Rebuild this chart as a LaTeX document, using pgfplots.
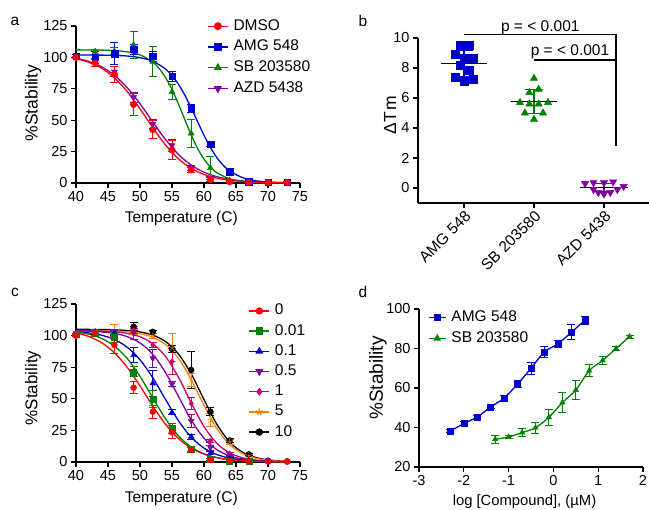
\documentclass[border=0pt]{standalone}
\usepackage{fontspec}
\setmainfont{Liberation Sans}
\usepackage{pgfplots}
\pgfplotsset{compat=1.18}

\definecolor{cRed}{RGB}{255,0,0}
\definecolor{cBlue}{RGB}{0,0,204}
\definecolor{cGreen}{RGB}{0,128,0}
\definecolor{cPurple}{RGB}{128,0,160}
\definecolor{cMag}{RGB}{204,0,110}
\definecolor{cOrange}{RGB}{255,128,0}

\newcommand{\tickfont}{\fontsize{14.5}{16}\selectfont}
\newcommand{\labfont}{\fontsize{15.5}{18}\selectfont}

\pgfplotsset{
  gp/.style={
    scale only axis, axis lines=left,
    axis line style={-, line width=1.3pt},
    tick align=outside, major tick length=5pt,
    tick style={line width=1.2pt, black},
    enlargelimits=false, clip=false,
    /pgf/number format/assume math mode=true,
    tick label style={font=\tickfont},
    legend style={draw=none, fill=none, font=\labfont, inner sep=0pt,
      row sep=4.8pt, column sep=4pt,
      nodes={inner sep=1pt, text height=11pt, text depth=3pt}},
    legend cell align=left,
    legend image code/.code={\draw[mark repeat=2,mark phase=2,#1]
      plot coordinates {(0pt,0pt) (10pt,0pt) (20pt,0pt)};},
  },
  curve/.style={line width=1.3pt, mark=none, smooth, forget plot},
  pts/.style={only marks, forget plot,
    error bars/y dir=both, error bars/y explicit,
    error bars/error bar style={line width=1pt},
    error bars/error mark options={rotate=90, line width=1pt, mark size=4pt}},
}

\begin{document}
\begin{tikzpicture}
\path[use as bounding box] (0,0) rectangle (649pt,510pt);

\node[font=\labfont] at (15pt,489pt) {a};
\node[font=\labfont] at (363pt,489pt) {b};
\node[font=\labfont] at (15pt,218pt) {c};
\node[font=\labfont] at (363pt,218pt) {d};

% ---------------- a ----------------
\begin{axis}[gp, at={(76pt,327pt)}, anchor=south west, width=224pt, height=157pt,
  xmin=40, xmax=75, ymin=0, ymax=125,
  xtick={40,45,...,75}, ytick={0,25,...,125},
  xlabel={Temperature (C)}, ylabel={\%Stability},
  xlabel style={at={(axis description cs:0.47,-0.223)}, anchor=center, font=\labfont},
  ylabel style={at={(axis description cs:-0.192,0.51)}, anchor=center, font=\fontsize{17.5}{20}\selectfont},
  legend style={at={(axis description cs:0.585,1.051)}, anchor=north west}]
\addlegendimage{cRed, line width=1.3pt, mark=*, mark size=3.3pt}
\addlegendentry{DMSO}
\addlegendimage{cBlue, line width=1.3pt, mark=square*, mark size=3.3pt}
\addlegendentry{AMG 548}
\addlegendimage{cGreen, line width=1.3pt, mark=triangle*, mark size=3.5pt}
\addlegendentry{SB 203580}
\addlegendimage{cPurple, line width=1.3pt, mark=triangle*, mark size=3.5pt, mark options={rotate=180}}
\addlegendentry{AZD 5438}

\addplot[curve, cPurple] coordinates {(40,99.4) (42,96.8) (44,92.5) (46,85.7) (48,75.9) (50,63.1) (52,48.6) (54,34.5) (56,22.8) (58,14.2) (60,8.6) (62,5.0) (64,2.9) (66,1.7) (68,0.9) (70,0.5) (72,0.3) (73,0.24)};
\addplot[curve, cGreen] coordinates {(40,106) (42,105.9) (44,105.8) (46,105.4) (48,104.4) (50,102.0) (52,96.2) (53,91.1) (54,83.9) (55,74.4) (56,63.0) (57,50.5) (58,38.3) (59,27.5) (60,19.0) (61,12.6) (62,8.2) (64,3.3) (66,1.3) (68,0.5) (70,0.2) (72,0.1) (73,0.05)};
\addplot[curve, cBlue] coordinates {(40,102) (42,101.9) (44,101.8) (46,101.6) (48,101.1) (50,99.8) (52,97.0) (54,90.7) (55,85.6) (56,78.7) (57,70.0) (58,59.8) (59,48.8) (60,38.0) (61,28.3) (62,20.3) (63,14.1) (64,9.6) (66,4.3) (68,1.8) (70,0.8) (72,0.3) (73,0.2)};
\addplot[curve, cRed] coordinates {(40,99.1) (42,96.1) (44,91.4) (46,83.7) (48,72.8) (50,59.1) (52,44.0) (54,30.2) (56,19.3) (58,11.6) (60,6.8) (62,3.9) (64,2.2) (66,1.2) (68,0.7) (70,0.4) (72,0.2) (73,0.16)};

\addplot[pts, cPurple, mark=triangle*, mark size=3.5pt, mark options={rotate=180}] coordinates {
 (40,101.5) +- (0,1) (43,97) +- (0,2) (46,88.6) +- (0,4) (49,68.2) +- (0,4) (52,47) +- (0,3.5)
 (55,30) +- (0,5) (58,12) +- (0,2) (61,4) +- (0,1) (64,1.5) +- (0,0.5) (67,1) +- (0,0.5)
 (70,0.5) +- (0,0.3) (73,0.5) +- (0,0.3)};
\addplot[pts, cGreen, mark=triangle*, mark size=3.5pt] coordinates {
 (43,104.6) +- (0,2) (46,105) +- (0,3) (49,110) +- (0,11) (52,96.5) +- (0,12) (55,72.5) +- (0,6)
 (58,39.5) +- (0,11.4) (61,12) +- (0,9) (64,2) +- (0,1) (67,0.5) +- (0,0.5)};
\addplot[pts, cBlue, mark=square*, mark size=3.3pt] coordinates {
 (40,101) +- (0,1) (43,100) +- (0,5) (46,103) +- (0,8.5) (49,106.5) +- (0,4) (52,101) +- (0,4)
 (55,85) +- (0,4) (58,59.4) +- (0,3) (61,30.8) +- (0,2) (64,9.2) +- (0,2) (67,1.2) +- (0,1)
 (70,0.5) +- (0,0.3) (73,0.5) +- (0,0.3)};
\addplot[pts, cRed, mark=*, mark size=3.3pt] coordinates {
 (40,100) +- (0,1) (43,95.5) +- (0,3) (46,86.5) +- (0,6.5) (49,62.5) +- (0,9) (52,42.5) +- (0,7.3)
 (55,26.3) +- (0,7.4) (58,10.4) +- (0,2) (61,2.8) +- (0,1.5) (64,1) +- (0,0.5) (67,0.5) +- (0,0.3)
 (70,0.4) +- (0,0.2) (73,0.4) +- (0,0.2)};
\end{axis}

% ---------------- b ----------------
\begin{axis}[gp, at={(418pt,307pt)}, anchor=south west, width=231pt, height=165pt,
  xmin=-0.657, xmax=2.643, ymin=-1, ymax=10,
  xtick={0,1,2}, xticklabels={AMG 548, SB 203580, AZD 5438},
  xticklabel style={rotate=45, anchor=north east, inner sep=1pt, font=\labfont},
  ytick={0,2,...,10},
  ylabel={ΔT\kern1pt m},
  ylabel style={at={(axis description cs:-0.121,0.533)}, anchor=center, font=\fontsize{17.5}{20}\selectfont}]
\addplot[only marks, cBlue, mark=square*, mark size=4pt] coordinates {
 (-0.06,9.5) (0.07,9.5) (-0.12,8.93) (0,8.64) (0.13,8.64) (-0.06,8.2) (0.07,7.82) (-0.12,7.38) (0,7.15) (0.13,7.24)};
\addplot[cBlue, line width=1.2pt] coordinates {(0,7.43) (0,9.15)};
\addplot[cBlue, line width=1.2pt] coordinates {(-0.13,9.15) (0.13,9.15)};
\addplot[cBlue, line width=1.2pt] coordinates {(-0.13,7.43) (0.13,7.43)};
\addplot[black, line width=1.3pt] coordinates {(-0.33,8.29) (0.33,8.29)};

\addplot[only marks, cGreen, mark=triangle*, mark size=4.2pt] coordinates {
 (1,7.31) (0.933,6.36) (1.067,6.58) (0.8,5.7) (0.933,5.6) (1.067,5.6) (1.2,5.7) (0.87,5.0) (1.13,5.0) (1,4.58)};
\addplot[cGreen, line width=1.2pt] coordinates {(1,4.95) (1,6.58)};
\addplot[cGreen, line width=1.2pt] coordinates {(0.87,6.58) (1.13,6.58)};
\addplot[cGreen, line width=1.2pt] coordinates {(0.87,4.95) (1.13,4.95)};
\addplot[black, line width=1.3pt] coordinates {(0.67,5.76) (1.33,5.76)};

\addplot[only marks, cPurple, mark=triangle*, mark size=4.2pt, mark options={rotate=180}] coordinates {
 (1.73,0.3) (1.85,0.35) (2,0.35) (2.13,0.4) (2.28,0.1) (1.85,-0.1) (1.92,-0.3) (2,-0.4) (2.09,-0.3) (2.19,-0.1)};
\addplot[cPurple, line width=1.2pt] coordinates {(2,-0.26) (2,0.3)};
\addplot[cPurple, line width=1.2pt] coordinates {(1.87,0.3) (2.13,0.3)};
\addplot[cPurple, line width=1.2pt] coordinates {(1.87,-0.26) (2.13,-0.26)};
\addplot[black, line width=1.3pt] coordinates {(1.66,0.02) (2.34,0.02)};

\draw[line width=1.3pt] (axis cs:0,10.25) -- (axis cs:2.17,10.25) -- (axis cs:2.17,2.8);
\draw[line width=1.3pt] (axis cs:1,8.53) -- (axis cs:2.17,8.53);
\node[anchor=base, font=\labfont, inner sep=0pt] at (axis cs:1.09,10.45) {p = < 0.001};
\node[anchor=base, font=\labfont, inner sep=0pt] at (axis cs:1.514,8.8) {p = < 0.001};
\end{axis}

% ---------------- c ----------------
\begin{axis}[gp, at={(76pt,48pt)}, anchor=south west, width=224pt, height=158pt,
  xmin=40, xmax=75, ymin=0, ymax=125,
  xtick={40,45,...,75}, ytick={0,25,...,125},
  xlabel={Temperature (C)}, ylabel={\%Stability},
  xlabel style={at={(axis description cs:0.47,-0.228)}, anchor=center, font=\labfont},
  ylabel style={at={(axis description cs:-0.192,0.468)}, anchor=center, font=\fontsize{17}{20}\selectfont},
  legend style={at={(axis description cs:0.77,1.008)}, anchor=north west, row sep=4.2pt}]
\addlegendimage{cRed, line width=1.3pt, mark=*, mark size=3pt}
\addlegendentry{0}
\addlegendimage{cGreen, line width=1.3pt, mark=square*, mark size=3pt}
\addlegendentry{0.01}
\addlegendimage{cBlue, line width=1.3pt, mark=triangle*, mark size=3.3pt}
\addlegendentry{0.1}
\addlegendimage{cPurple, line width=1.3pt, mark=triangle*, mark size=3.3pt, mark options={rotate=180}}
\addlegendentry{0.5}
\addlegendimage{cMag, line width=1.3pt, mark=diamond*, mark size=3pt}
\addlegendentry{1}
\addlegendimage{cOrange, line width=1.3pt, mark=star, mark size=3.5pt}
\addlegendentry{5}
\addlegendimage{black, line width=1.3pt, mark=*, mark size=3pt}
\addlegendentry{10}

\addplot[curve, black] coordinates {(40,105) (42,104.9) (44,104.8) (46,104.6) (48,104.0) (50,102.9) (52,100.4) (54,95.3) (56,85.5) (58,69.7) (60,49.4) (62,29.9) (64,15.9) (66,7.8) (68,3.7) (70,1.7) (72,0.8) (73,0.5)};
\addplot[curve, cOrange] coordinates {(40,104) (42,103.9) (44,103.8) (46,103.5) (48,102.9) (50,101.5) (52,98.7) (54,92.9) (56,82.1) (58,65.2) (60,44.8) (62,26.4) (64,13.8) (66,6.7) (68,3.1) (70,1.4) (72,0.6) (73,0.43)};
\addplot[curve, cMag] coordinates {(40,103.9) (42,103.8) (44,103.5) (46,103.0) (48,101.7) (50,99.1) (52,93.6) (54,83.4) (56,67.1) (58,46.8) (60,28.0) (62,14.8) (64,7.2) (66,3.4) (68,1.5) (70,0.7) (72,0.3) (73,0.2)};
\addplot[curve, cPurple] coordinates {(40,103.8) (42,103.5) (44,102.9) (46,101.7) (48,99.2) (50,94.2) (52,85.2) (54,70.7) (56,52.0) (58,33.3) (60,18.8) (62,9.8) (64,4.8) (66,2.3) (68,1.1) (70,0.5) (72,0.25) (73,0.17)};
\addplot[curve, cBlue] coordinates {(40,103.0) (42,102.1) (44,100.3) (46,96.9) (48,90.8) (50,80.9) (52,66.6) (54,49.4) (56,32.7) (58,19.6) (60,11.0) (62,5.9) (64,3.1) (66,1.6) (68,0.8) (70,0.4) (72,0.2) (73,0.15)};
\addplot[curve, cGreen] coordinates {(40,103.0) (42,101.1) (44,97.7) (46,91.7) (48,81.9) (50,67.8) (52,50.7) (54,34.1) (56,20.8) (58,11.8) (60,6.4) (62,3.4) (64,1.8) (66,0.9) (68,0.5) (70,0.24) (72,0.12) (73,0.09)};
\addplot[curve, cRed] coordinates {(40,102.2) (42,99.3) (44,94.4) (46,86.4) (48,74.9) (50,60.2) (52,44.3) (54,29.7) (56,18.6) (58,11.0) (60,6.3) (62,3.5) (64,2.0) (66,1.1) (68,0.6) (70,0.33) (72,0.17) (73,0.13)};

\addplot[pts, black, mark=*, mark size=3pt] coordinates {
 (49,107) +- (0,3) (52,103) +- (0,1) (55,89.4) +- (0,3) (58,72.8) +- (0,15) (61,39.8) +- (0,3)
 (64,17) +- (0,1.5) (67,6) +- (0,1) (70,1) +- (0,0.5) (73,0.5) +- (0,0.3)};
\addplot[pts, cOrange, mark=star, mark size=3.5pt] coordinates {
 (46,103) +- (0,6) (49,103) +- (0,2) (52,100) +- (0,2) (55,90.4) +- (0,11) (58,65) +- (0,5)
 (61,33.2) +- (0,5) (64,16) +- (0,2) (67,5) +- (0,1) (70,1) +- (0,0.5) (73,0.5) +- (0,0.3)};
\addplot[pts, cMag, mark=diamond*, mark size=3pt] coordinates {
 (49,104) +- (0,2) (52,92.6) +- (0,2) (55,79.4) +- (0,10) (58,46.4) +- (0,5) (61,16.6) +- (0,1)
 (64,6.5) +- (0,1) (67,2) +- (0,0.5) (70,0.5) +- (0,0.3)};
\addplot[pts, cPurple, mark=triangle*, mark size=3.3pt, mark options={rotate=180}] coordinates {
 (43,103) +- (0,1) (46,103) +- (0,2) (49,101.8) +- (0,5) (52,82) +- (0,7) (55,61.5) +- (0,2)
 (58,32.4) +- (0,5) (61,11.3) +- (0,2) (64,5) +- (0,1) (67,1.5) +- (0,0.5) (70,0.5) +- (0,0.3)};
\addplot[pts, cBlue, mark=triangle*, mark size=3.3pt] coordinates {
 (43,103) +- (0,2) (46,102) +- (0,2) (49,84.6) +- (0,6) (52,62.2) +- (0,10) (55,39.2) +- (0,2)
 (58,20) +- (0,2) (61,7) +- (0,1) (64,3) +- (0,0.5) (67,1) +- (0,0.5)};
\addplot[pts, cGreen, mark=square*, mark size=3pt] coordinates {
 (40,101) +- (0,1) (43,102) +- (0,2) (46,98.4) +- (0,4) (49,71.4) +- (0,4) (52,49.8) +- (0,7)
 (55,26.7) +- (0,4) (58,10.3) +- (0,2) (61,2) +- (0,1) (64,1) +- (0,0.5) (67,0.5) +- (0,0.3)};
\addplot[pts, cRed, mark=*, mark size=3pt] coordinates {
 (40,100) +- (0,1) (43,102) +- (0,3) (46,92.6) +- (0,7) (49,58.8) +- (0,5) (52,39.8) +- (0,5)
 (55,23.5) +- (0,5) (58,9.5) +- (0,2) (61,1.6) +- (0,1) (64,1) +- (0,0.5) (67,0.5) +- (0,0.3)
 (70,0.3) +- (0,0.2) (73,0.3) +- (0,0.2)};
\end{axis}

% ---------------- d ----------------
\begin{axis}[gp, at={(419pt,43pt)}, anchor=south west, width=224pt, height=158pt,
  xmin=-3, xmax=2, ymin=20, ymax=100,
  xtick={-3,-2,-1,0,1,2}, xticklabels={-3,-2,-1,0,1,2}, ytick={20,40,...,100},
  xlabel={log [Compound], (µM)}, ylabel={\%Stability},
  xlabel style={at={(axis description cs:0.471,-0.22)}, anchor=center, font=\fontsize{14.8}{18}\selectfont},
  ylabel style={at={(axis description cs:-0.183,0.563)}, anchor=center, font=\fontsize{19}{22}\selectfont},
  legend style={at={(axis description cs:0.04,0.996)}, anchor=north west, row sep=4.6pt},
  legend image code/.code={\draw[mark repeat=2,mark phase=2,#1]
      plot coordinates {(0pt,0pt) (8.5pt,0pt) (17pt,0pt)};}]
\addlegendimage{cBlue, line width=1.3pt, mark=square*, mark size=3pt}
\addlegendentry{AMG 548}
\addlegendimage{cGreen, line width=1.3pt, mark=triangle*, mark size=3.2pt}
\addlegendentry{SB 203580}

\addplot[curve, cBlue] coordinates {(-2.3,38.2) (-2.0,42.0) (-1.7,45.3) (-1.4,50.4) (-1.1,54.9) (-0.8,62) (-0.5,70) (-0.2,78.3) (0.1,82.3) (0.4,88.2) (0.7,94.2)};
\addplot[curve, cGreen] coordinates {(-1.3,34) (-1.0,35.2) (-0.7,37.4) (-0.4,39.9) (-0.1,45.2) (0.2,52.6) (0.5,59) (0.8,68.8) (1.1,74) (1.4,80) (1.7,86)};
\addplot[pts, cBlue, mark=square*, mark size=3pt] coordinates {
 (-2.3,38.2) +- (0,0.8) (-2.0,42.0) +- (0,0.8) (-1.7,45.3) +- (0,0.8) (-1.4,50.4) +- (0,1)
 (-1.1,54.9) +- (0,1.5) (-0.8,62) +- (0,2) (-0.5,70) +- (0,3) (-0.2,78.3) +- (0,2.8)
 (0.1,82.3) +- (0,2) (0.4,88.2) +- (0,3.8) (0.7,94.2) +- (0,2)};
\addplot[pts, cGreen, mark=triangle*, mark size=3.2pt] coordinates {
 (-1.3,34) +- (0,2) (-1.0,35.2) +- (0,0.8) (-0.7,37.4) +- (0,2) (-0.4,39.9) +- (0,2.8)
 (-0.1,45.2) +- (0,4) (0.2,52.6) +- (0,5) (0.5,59) +- (0,5) (0.8,68.8) +- (0,3)
 (1.1,74) +- (0,2) (1.4,80) +- (0,1) (1.7,86) +- (0,0.8)};
\end{axis}
\end{tikzpicture}
\end{document}
